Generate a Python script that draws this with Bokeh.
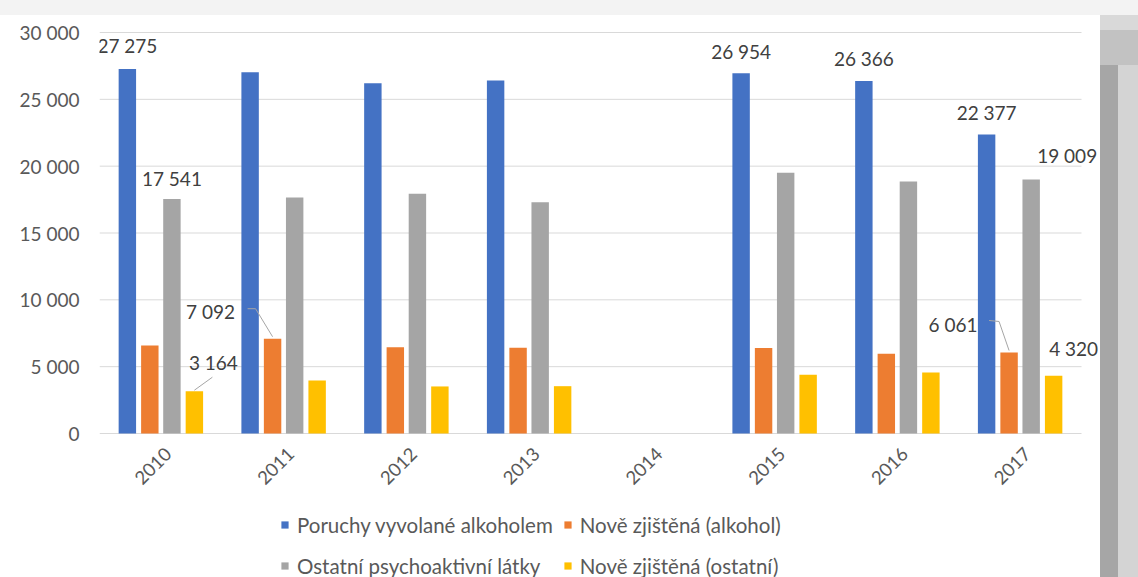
import math
from bokeh.plotting import figure
from bokeh.layouts import row, column
from bokeh.models import Range1d, FixedTicker, Legend, LegendItem, Div
from bokeh.core.properties import value
from bokeh.embed import file_html
from bokeh.resources import INLINE

# ---------------- data ----------------
years = ["2010", "2011", "2012", "2013", "2014", "2015", "2016", "2017"]
poruchy_alkohol = [27275, 27030, 26210, 26410, None, 26954, 26366, 22377]
nove_alkohol = [6580, 7092, 6460, 6410, None, 6400, 5970, 6061]
ostatni_latky = [17541, 17650, 17930, 17300, None, 19500, 18850, 19009]
nove_ostatni = [3164, 3960, 3520, 3540, None, 4400, 4570, 4320]
series_names = ["Poruchy vyvolané alkoholem", "Nově zjištěná (alkohol)",
                "Ostatní psychoaktivní látky", "Nově zjištěná (ostatní)"]
y_tick_values = [0, 5000, 10000, 15000, 20000, 25000, 30000]
y_tick_labels = ["0", "5 000", "10 000", "15 000", "20 000", "25 000", "30 000"]

series_values = [poruchy_alkohol, nove_alkohol, ostatni_latky, nove_ostatni]

# ---------------- style ----------------
colors = ["#4472C4", "#ED7D31", "#A5A5A5", "#FFC000"]
offsets = [-0.273, -0.09, 0.09, 0.273]
bar_w = 0.142
FONT = "Lato"
CAT_PX = 122.75            # pixels per category
Y_PX = 401 / 30000         # pixels per unit of value
BAND = 15                  # grey band above the chart
LEFT = 99
FIG_W, FIG_H = 1100, 577 - BAND
FRAME_TOP = 30 - BAND      # frame top inside the figure
ZERO_Y = 433 - BAND        # pixel row of value 0 inside the figure
FRAME_W = FIG_W - LEFT
FRAME_H = FIG_H - FRAME_TOP
x_end = -0.5 + FRAME_W / CAT_PX
y_start = -(FIG_H - ZERO_Y) / Y_PX
y_end = (ZERO_Y - FRAME_TOP) / Y_PX
PX_X = 1.0 / CAT_PX
PX_Y = 1.0 / Y_PX

p = figure(width=FIG_W, height=FIG_H, frame_width=FRAME_W, frame_height=FRAME_H,
           x_range=Range1d(-0.5, x_end), y_range=Range1d(y_start, y_end),
           x_axis_location=None,
           output_backend="svg", toolbar_location=None,
           min_border_left=LEFT, min_border_top=FRAME_TOP, min_border_right=0, min_border_bottom=0)
p.outline_line_color = None
p.background_fill_color = "white"
p.border_fill_color = "white"

# gridlines (value grid spanning the category area only)
p.segment(x0=[-0.5] * len(y_tick_values), x1=[len(years) - 0.5] * len(y_tick_values),
          y0=y_tick_values, y1=y_tick_values, line_color="#d9d9d9", line_width=1)

renderers = []
for i, vals in enumerate(series_values):
    xs = [j + offsets[i] for j, v in enumerate(vals) if v is not None]
    tops = [v for v in vals if v is not None]
    r = p.vbar(x=xs, top=tops, bottom=0, width=bar_w, fill_color=colors[i], line_color=None)
    renderers.append(r)

# category labels (rotated, below the zero line)
p.text(x=list(range(len(years))), y=[0] * len(years), text=years,
       x_offset=7, y_offset=17, angle=math.pi / 4,
       text_align="right", text_baseline="middle",
       text_font=value(FONT), text_font_size="18.5px", text_color="#595959")

# value axis
p.yaxis.ticker = FixedTicker(ticks=y_tick_values)
p.yaxis.major_label_overrides = {v: l for v, l in zip(y_tick_values, y_tick_labels)}
p.yaxis.axis_line_color = None
p.yaxis.major_tick_line_color = None
p.yaxis.major_tick_out = 0
p.yaxis.minor_tick_line_color = None
p.yaxis.minor_tick_out = 0
p.yaxis.major_label_text_font = FONT
p.yaxis.major_label_text_font_size = "19px"
p.yaxis.major_label_text_color = "#595959"
p.yaxis.major_label_standoff = 20

p.xgrid.grid_line_color = None
p.ygrid.grid_line_color = None

# data labels: (series, year index, dx px, dy px above bar top)
label_spec = [(0, 0, 0, 23), (2, 0, 0, 21), (3, 0, 19, 29), (1, 1, -62, 27),
              (0, 5, 0, 22), (0, 6, 0, 23), (0, 7, 0, 22), (2, 7, 36, 24),
              (1, 7, -56, 28), (3, 7, 20, 27)]
lx, ly, lt, lxo, lyo = [], [], [], [], []
for s, j, dx, dy in label_spec:
    v = series_values[s][j]
    lx.append(j + offsets[s])
    ly.append(v)
    lt.append(f"{v:,}".replace(",", " "))
    lxo.append(dx)
    lyo.append(-dy)
p.text(x=lx, y=ly, text=lt, x_offset=lxo, y_offset=lyo,
       text_align="center", text_baseline="middle",
       text_font=value(FONT), text_font_size="19px", text_color="#404040")

# leader lines (pixel offsets from bar top)
leader_spec = [(3, 0, [(18, 14), (0, 1)]),
               (1, 1, [(-25, 30), (-17, 30), (0, 2)]),
               (1, 7, [(-20, 32), (-10, 31), (0, 2)])]
mxs, mys = [], []
for s, j, pts in leader_spec:
    v = series_values[s][j]
    bx = j + offsets[s]
    mxs.append([bx + dx * PX_X for dx, dy in pts])
    mys.append([v + dy * PX_Y for dx, dy in pts])
p.multi_line(xs=mxs, ys=mys, line_color="#a6a6a6", line_width=1)

# legend (two rows, two columns) under the category labels
legend = Legend(items=[LegendItem(label=n, renderers=[r]) for n, r in zip(series_names, renderers)],
                location=(181, -4), orientation="horizontal", ncols=2,
                spacing=10, padding=0, margin=0, glyph_width=9, glyph_height=9,
                label_standoff=8, label_height=31,
                label_text_font=FONT, label_text_font_size="20.5px", label_text_color="#595959",
                border_line_color=None, background_fill_alpha=0)
p.add_layout(legend)

# grey edges of the original screenshot
top_band = Div(width=1138, height=BAND, styles={"background": "#f3f3f3", "margin": "0px"})
edge = Div(width=38, height=FIG_H,
           styles={"background": "linear-gradient(to bottom, #d9d9d9 0px, #d9d9d9 15px, #c2c2c2 15px, #c2c2c2 50px, rgba(0,0,0,0) 50px), "
                                 "linear-gradient(to right, #a6a6a6 0px, #a6a6a6 18px, #d4d4d4 18px, #d4d4d4 38px)",
                   "margin": "0px"})
layout = column(top_band, row(p, edge, spacing=0), spacing=0)

open("out.html", "w").write(file_html(layout, INLINE))
